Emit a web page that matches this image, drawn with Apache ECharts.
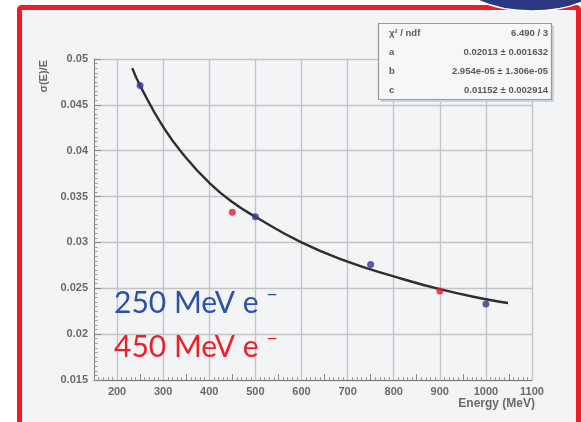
<!DOCTYPE html>
<html>
<head>
<meta charset="utf-8">
<script src="https://cdn.jsdelivr.net/npm/echarts@6/dist/echarts.min.js"></script>
<style>
html,body{margin:0;padding:0;background:#ffffff;}
#chart{width:581px;height:422px;}
</style>
</head>
<body>
<div id="chart"></div>
<script>
// ---- data ----
var blueE = [250, 500, 750, 1000];
var blueRes = [0.0471, 0.0328, 0.0276, 0.0233];
var redE = [450, 900];
var redRes = [0.0333, 0.0247];
// fitted curve
var fitE = [233, 250, 300, 350, 400, 450, 500, 600, 700, 800, 900, 1000, 1048];
var fitRes = [0.0490, 0.0471, 0.0426, 0.0392, 0.0365, 0.0344, 0.0328, 0.0300, 0.0279, 0.0263, 0.0249, 0.0238, 0.0234];
var xGridTicks = [200, 300, 400, 500, 600, 700, 800, 900, 1000, 1100];
var statsLabels = ['\u03c7\u00b2 / ndf', 'a', 'b', 'c'];
var statsValues = ['6.490 / 3', '0.02013 \u00b1 0.001632', '2.954e-05 \u00b1 1.306e-05', '0.01152 \u00b1 0.002914'];
var legendTexts = ['250 MeV e', '450 MeV e'];
var legendSup = '\u2212';
var legendColors = ['#2b51a8', '#ee1f26'];

function zip(a, b) { return a.map(function (v, i) { return [v, b[i]]; }); }

var chart = echarts.init(document.getElementById('chart'), null, {renderer: 'canvas'});

var labelCol = '#6a6a6a';
var graphics = [
  {type: 'rect', z: 0, shape: {x: 20, y: 8, width: 600, height: 430}, style: {fill: '#f2f4f6'}},
  {type: 'rect', z: 1, shape: {x: 19.5, y: 7.5, width: 559, height: 440, r: 2}, style: {fill: 'none', stroke: '#ee1c25', lineWidth: 5}},
  {type: 'ellipse', z: 2, shape: {cx: 532, cy: -40, rx: 88, ry: 51}, style: {fill: '#2c3784', stroke: '#ffffff', lineWidth: 1.5}},
  // stats box
  {type: 'rect', z: 20, shape: {x: 381, y: 26, width: 173, height: 76}, style: {fill: '#cfd2d5'}},
  {type: 'rect', z: 21, shape: {x: 378.5, y: 23.5, width: 173, height: 76}, style: {fill: '#f6f7f8', stroke: '#9a9a9a', lineWidth: 1.2}},
  {type: 'text', z: 30, x: 44, y: 60, rotation: Math.PI / 2,
   style: {text: '\u03c3(E)/E', fill: labelCol, font: 'bold 11px "Liberation Sans", Arial', textAlign: 'right', textVerticalAlign: 'middle'}},
  {type: 'text', z: 30, x: 535, y: 404,
   style: {text: 'Energy (MeV)', fill: labelCol, font: 'bold 12px "Liberation Sans", Arial', textAlign: 'right', textVerticalAlign: 'middle'}}
];
var rowY = [33, 52, 71, 90];
statsLabels.forEach(function (t, i) {
  graphics.push({type: 'text', z: 30, x: 389, y: rowY[i],
    style: {text: t, fill: '#5a5a5a', font: 'bold 9.5px "Liberation Sans", Arial', textAlign: 'left', textVerticalAlign: 'middle'}});
  graphics.push({type: 'text', z: 30, x: 548, y: rowY[i],
    style: {text: statsValues[i], fill: '#5a5a5a', font: 'bold 9.5px "Liberation Sans", Arial', textAlign: 'right', textVerticalAlign: 'middle'}});
});
var legY = [303, 347];
var supY = [295, 339];
legendTexts.forEach(function (t, i) {
  graphics.push({type: 'text', z: 30, x: 114, y: legY[i],
    style: {text: t, fill: legendColors[i], font: '30px Lato, "Open Sans", sans-serif', textAlign: 'left', textVerticalAlign: 'middle'}});
  graphics.push({type: 'text', z: 30, x: 272, y: supY[i],
    style: {text: legendSup, fill: legendColors[i], font: '20px Lato, "Open Sans", sans-serif', textAlign: 'center', textVerticalAlign: 'middle'}});
});

var option = {
  animation: false,
  backgroundColor: 'transparent',
  grid: {left: 94, right: 49, top: 59, bottom: 42, show: true, backgroundColor: '#f4f6f8', borderColor: '#7a7a7a', borderWidth: 1},
  xAxis: {
    type: 'value', min: 150, max: 1100, interval: 50,
    axisLine: {show: true, lineStyle: {color: '#7a7a7a'}},
    axisTick: {show: true, inside: true, length: 6, lineStyle: {color: '#8a8a8a'}},
    minorTick: {show: true, splitNumber: 5, length: 3, lineStyle: {color: '#9a9a9a'}},
    splitLine: {show: false},
    axisLabel: {color: labelCol, fontWeight: 'bold', fontSize: 11, fontFamily: '"Liberation Sans", Arial', margin: 6,
      formatter: function (v) { return v % 100 === 0 ? String(v) : ''; }}
  },
  yAxis: {
    type: 'value', min: 0.015, max: 0.05, interval: 0.005,
    axisLine: {show: true, lineStyle: {color: '#7a7a7a'}},
    axisTick: {show: true, inside: true, length: 7, lineStyle: {color: '#8a8a8a'}},
    minorTick: {show: true, splitNumber: 10, length: 3.5, lineStyle: {color: '#9a9a9a'}},
    splitLine: {show: true, lineStyle: {color: '#c2c4c6', width: 1.3}},
    axisLabel: {color: labelCol, fontWeight: 'bold', fontSize: 11, fontFamily: '"Liberation Sans", Arial', margin: 6,
      formatter: function (v) { return String(+v.toFixed(4)); }}
  },
  graphic: graphics,
  series: [
    {
      type: 'line', data: zip(fitE, fitRes), smooth: 0.5, showSymbol: false, z: 5,
      lineStyle: {color: '#2e2e2e', width: 2.4},
      markLine: {silent: true, symbol: 'none', label: {show: false}, z: 1,
        lineStyle: {color: '#c2c4c6', width: 1.3, type: 'solid'},
        data: xGridTicks.map(function (v) { return {xAxis: v}; })}
    },
    {type: 'scatter', data: zip(blueE, blueRes), symbol: 'circle', symbolSize: 7, z: 6, itemStyle: {color: '#33359c'}},
    {type: 'scatter', data: zip(redE, redRes), symbol: 'circle', symbolSize: 7, z: 6, itemStyle: {color: '#ee1c25'}}
  ]
};
chart.setOption(option);
</script>
</body>
</html>
